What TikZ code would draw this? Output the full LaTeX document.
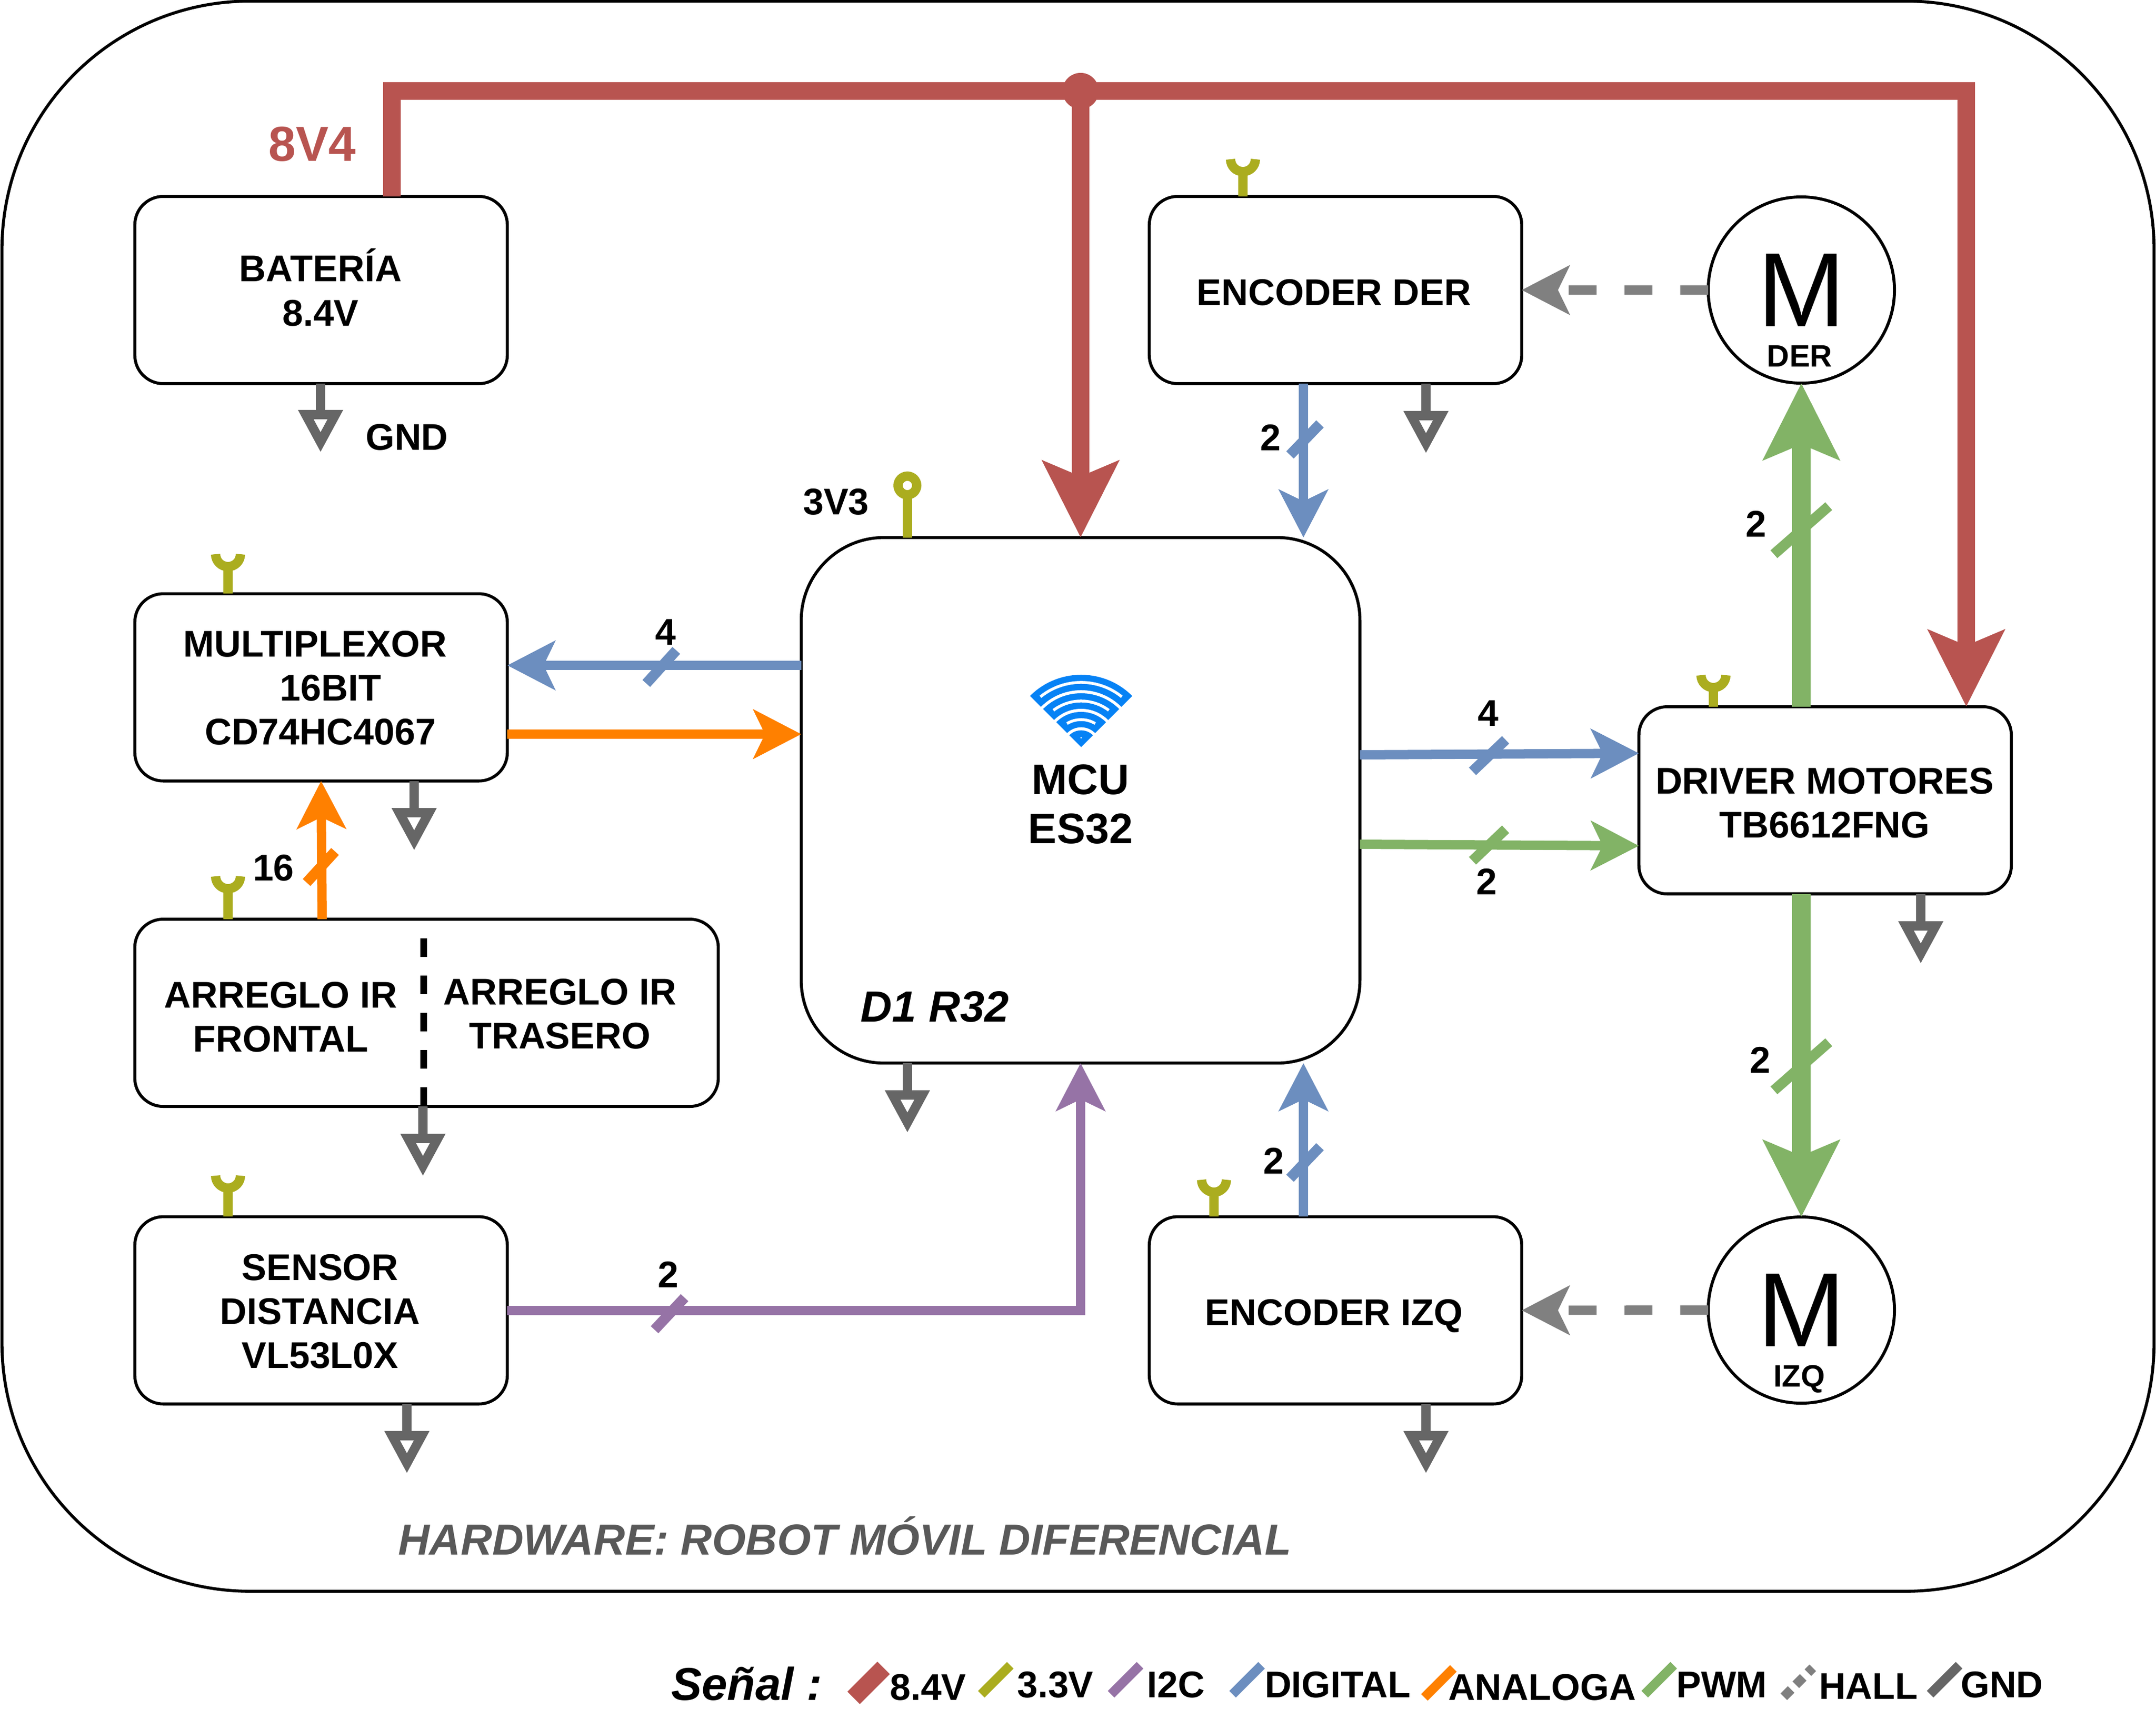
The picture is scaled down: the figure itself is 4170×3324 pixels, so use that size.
\documentclass[tikz,border=0pt]{standalone}
\usepackage{fontspec}
\setmainfont{Liberation Sans}
\usetikzlibrary{arrows.meta}
\definecolor{cred}{HTML}{B85450}
\definecolor{colive}{HTML}{ABAD1F}
\definecolor{cpurple}{HTML}{9673A6}
\definecolor{cblue}{HTML}{6C8EBF}
\definecolor{corange}{HTML}{FF8000}
\definecolor{cgreen}{HTML}{82B366}
\definecolor{chall}{HTML}{808080}
\definecolor{cgnd}{HTML}{666666}
\definecolor{cwifi}{HTML}{0682F5}
\definecolor{ctitle}{HTML}{595959}
\tikzset{
  x=0.01cm,y=-0.01cm,
  box/.style={draw=black,line width=.058cm,rounded corners=.55cm,minimum width=7.2cm,minimum height=3.62cm,outer sep=0pt,inner sep=0pt,align=center,font=\txt},
  txtn/.style={inner sep=0pt,outer sep=0pt,align=center,font=\txt},
  txtb/.style={inner sep=0pt,outer sep=0pt,anchor=base,font=\txt},
  motor/.style={draw=black,line width=.058cm,circle,minimum size=3.6cm,outer sep=0pt,inner sep=0pt},
  bigtip/.tip={Stealth[length=1.47cm,width=1.45cm,inset=.29cm]},
  smalltip/.tip={Stealth[length=.92cm,width=.94cm,inset=.22cm]},
  gndtip/.tip={Triangle[open,length=.82cm,width=.82cm,line width=.18cm]},
  power/.style={draw=cred,line width=.34cm},
  pwmbig/.style={draw=cgreen,line width=.36cm,-{bigtip}},
  sig/.style={line width=.18cm,-{smalltip}},
  tick/.style={line width=.2cm},
  gndline/.style={draw=cgnd,line width=.18cm,-{gndtip}},
  hallline/.style={draw=chall,line width=.18cm,dash pattern=on .54cm off .54cm,-{smalltip}},
  feed/.style={draw=colive,line width=.18cm},
  legtick/.style={line width=.18cm},
  legtxt/.style={anchor=base west,inner sep=0pt,outer sep=0pt,font=\txt},
}
\newcommand{\txt}{\fontsize{20.45}{24.2}\selectfont\bfseries}
% antenna (cup) on top of a block: x, top of cup, block
\newcommand{\cupfeed}[3]{%
  \draw[feed] (#1,#2) arc[start angle=180,end angle=360,radius=.24cm];
  \draw[feed] (#1+24,#2+25) -- (#1+24,0 |- #3.north);
}
\begin{document}
\begin{tikzpicture}
\useasboundingbox (0,0) rectangle (4170,3324);
\fill[white] (0,0) rectangle (4170,3324);
\node[draw=black,line width=.058cm,rounded corners=4.8cm,minimum width=41.6cm,minimum height=30.74cm,outer sep=0pt] (frame) at (2085,1540) {};

% blocks
\node[box] (bat) at (621,561) {};
\node[txtn] (batt) at (620,556) {BATERÍA\\8.4V};
\node[box] (mux) at (621,1329.5) {};
\node[txtn] (muxt) at (620,1331) {MULTIPLEXOR\hspace*{.21cm}\\\hspace*{.39cm}16BIT\\CD74HC4067};
\node[box,minimum width=11.28cm] (ir) at (825,1959) {};
\node[txtn] (irf) at (543,1967) {ARREGLO IR\\FRONTAL};
\node[txtn] (irt) at (1083,1961) {ARREGLO IR\\TRASERO};
\node[box] (dist) at (621,2534.5) {};
\node[txtn] (distt) at (619,2537) {SENSOR\\DISTANCIA\\VL53L0X};
\node[box,minimum width=10.8cm,minimum height=10.16cm,rounded corners=1.6cm] (mcu) at (2090,1548) {};
\node[box] (encd) at (2583,561) {};
\node[txtb] (encdt) at (2580,590) {ENCODER DER};
\node[box] (enci) at (2583,2534.5) {};
\node[txtb] (encit) at (2580,2563) {ENCODER IZQ};
\node[box] (drv) at (3530,1548) {};
\node[txtn] (drvt) at (3529,1553) {DRIVER MOTORES\\TB6612FNG};
\node[motor] (md) at (3484,561) {};
\node[motor] (mi) at (3484,2534) {};
\node[txtn,font=\fontsize{58}{58}\selectfont] (mdm) at (3484,561) {M};
\node[txtn,font=\fontsize{58}{58}\selectfont] (mim) at (3484,2534) {M};
\node[txtb,font=\fontsize{17}{20}\selectfont\bfseries] (mdt) at (3481,709) {DER};
\node[txtb,font=\fontsize{17}{20}\selectfont\bfseries] (mit) at (3480,2682) {IZQ};
\node[txtn,font=\fontsize{23.5}{27}\selectfont\bfseries] (mcut) at (2090,1556) {MCU\\ES32};
\node[txtn,font=\fontsize{24}{28}\selectfont\bfseries\itshape] (d1) at (1808,1947) {D1 R32};
\node[txtn,font=\fontsize{27}{30}\selectfont\bfseries,text=cred] (v84) at (604,279) {8V4};
\node[txtn] (gndt) at (787,846) {GND};
\node[txtn] (v33) at (1617,971) {3V3};
\node[txtn,font=\fontsize{23.9}{30}\selectfont\bfseries\itshape,text=ctitle] (title) at (1634,2971) {HARDWARE: ROBOT MÓVIL DIFERENCIAL};

% wifi icon
\begin{scope}[shift={(2091,1445)}]
\fill[cwifi] (0,0) -- (45:.323cm) arc[start angle=45,end angle=135,radius=.323cm] -- cycle;
\foreach \ra/\rb in {.383/.68,.74/1.04,1.10/1.397}{
  \fill[cwifi] (45:\ra cm) arc[start angle=45,end angle=135,radius=\ra cm] -- (135:\rb cm) arc[start angle=135,end angle=45,radius=\rb cm] -- cycle;
}
\draw[white,line width=.055cm] (59:.53cm) arc[start angle=59,end angle=121,radius=.53cm];
\draw[white,line width=.055cm] (53:.89cm) arc[start angle=53,end angle=127,radius=.89cm];
\draw[white,line width=.055cm] (51:1.25cm) arc[start angle=51,end angle=129,radius=1.25cm];
\fill[white] (90:.18cm) circle[radius=.016cm];
\end{scope}

% power rail
\node[circle,fill=cred,inner sep=0pt,minimum size=.70cm,outer sep=0pt] (junc) at (2090,176) {};
\draw[power,-{bigtip}] (758,0 |- bat.north) -- (758,176) -- (3803,176) -- (3803,0 |- drv.north);
\draw[power,-{bigtip}] (junc.center) -- (junc.center |- mcu.north);

% PWM to motors
\draw[pwmbig] (3484,0 |- drv.north) -- (3484,0 |- md.south);
\draw[pwmbig] (3484,0 |- drv.south) -- (3484,0 |- mi.north);
\draw[cgreen,tick] (3431,1072) -- (3537,979);
\draw[cgreen,tick] (3431,2109) -- (3537,2016);
\node[txtn] (l2a) at (3396,1013) {2};
\node[txtn] (l2b) at (3404,2050) {2};

% hall
\draw[hallline] (md.west) -- (encd.east);
\draw[hallline] (mi.west) -- (enci.east);

% encoders to MCU
\draw[sig,draw=cblue] (2521,0 |- encd.south) -- (2521,0 |- mcu.north);
\draw[sig,draw=cblue] (2521,0 |- enci.north) -- (2521,0 |- mcu.south);
\draw[cblue,tick] (2495,880) -- (2553,820);
\draw[cblue,tick] (2495,2279) -- (2553,2218);
\node[txtn] (l2c) at (2457,846) {2};
\node[txtn] (l2d) at (2463,2245) {2};

% MCU - mux
\draw[sig,draw=cblue] (mcu.west |- 0,1287) -- (mux.east |- 0,1287);
\draw[sig,draw=corange] (mux.east |- 0,1420) -- (mcu.west |- 0,1420);
\draw[cblue,tick] (1250,1322) -- (1308,1258);
\node[txtn] (l4a) at (1287,1223) {4};

% IR to mux
\draw[sig,draw=corange] (623,0 |- ir.north) -- (621,0 |- mux.south);
\draw[corange,tick] (593,1707) -- (648,1647);
\node[txtn] (l16) at (529,1679) {16};
\draw[black,line width=.13cm,dash pattern=on .36cm off .36cm] (819,1815) -- (819,0 |- ir.south);

% MCU to driver
\draw[sig,draw=cblue] (mcu.east |- 0,1460) -- (drv.west |- 0,1457);
\draw[sig,draw=cgreen] (mcu.east |- 0,1633) -- (drv.west |- 0,1636);
\draw[cblue,tick] (2848,1492) -- (2912,1431);
\draw[cgreen,tick] (2848,1665) -- (2912,1604);
\node[txtn] (l4b) at (2878,1380) {4};
\node[txtn] (l2e) at (2875,1705) {2};

% I2C
\draw[sig,draw=cpurple] (dist.east) -- (2090,0 |- dist.east) -- (2090,0 |- mcu.south);
\draw[cpurple,tick] (1266,2572) -- (1324,2510);
\node[txtn] (l2f) at (1292,2465) {2};

% 3.3 V feeds
\draw[feed] (1755,0 |- mcu.north) -- (1755,957);
\draw[colive,line width=.18cm] (1755,939) circle[radius=.18cm];
\cupfeed{417}{1072}{mux}
\cupfeed{417}{1695}{ir}
\cupfeed{417}{2274}{dist}
\cupfeed{2380}{308}{encd}
\cupfeed{2324}{2282}{enci}
\cupfeed{3290}{1306}{drv}

% grounds
\coordinate (g1) at (620,875);
\coordinate (g2) at (801,1645);
\coordinate (g3) at (818,2275);
\coordinate (g4) at (787,2850);
\coordinate (g5) at (1755,2191);
\coordinate (g6) at (2758,877);
\coordinate (g7) at (2758,2850);
\coordinate (g8) at (3715,1864);
\draw[gndline] (g1 |- bat.south) -- (g1);
\draw[gndline] (g2 |- mux.south) -- (g2);
\draw[gndline] (g3 |- ir.south) -- (g3);
\draw[gndline] (g4 |- dist.south) -- (g4);
\draw[gndline] (g5 |- mcu.south) -- (g5);
\draw[gndline] (g6 |- encd.south) -- (g6);
\draw[gndline] (g7 |- enci.south) -- (g7);
\draw[gndline] (g8 |- drv.south) -- (g8);

% legend
\node[legtxt,font=\fontsize{25.3}{30}\selectfont\bfseries\itshape] (ls) at (1298,3288) {Señal :};
\draw[cred,line width=.34cm] (1651,3284) -- (1709,3226);
\node[legtxt] (l1) at (1721,3288) {8.4V};
\draw[colive,legtick] (1898,3277) -- (1954,3221);
\node[legtxt] (l3) at (1967,3283) {3.3V};
\draw[cpurple,legtick] (2149,3277) -- (2205,3221);
\node[legtxt] (l5) at (2218,3283) {I2C};
\draw[cblue,legtick] (2384,3277) -- (2440,3221);
\node[legtxt] (l6) at (2446,3283) {DIGITAL};
\draw[corange,legtick] (2755,3283) -- (2811,3227);
\node[legtxt] (l7) at (2801,3288) {ANALOGA};
\draw[cgreen,legtick] (3181,3277) -- (3237,3221);
\node[legtxt] (l8) at (3242,3283) {PWM};
\draw[chall,legtick,dash pattern=on .2cm off .13cm] (3450,3282) -- (3506,3226);
\node[legtxt] (l9) at (3518,3286) {HALL};
\draw[cgnd,legtick] (3733,3277) -- (3789,3221);
\node[legtxt] (l10) at (3792,3283) {GND};
\end{tikzpicture}
\end{document}
